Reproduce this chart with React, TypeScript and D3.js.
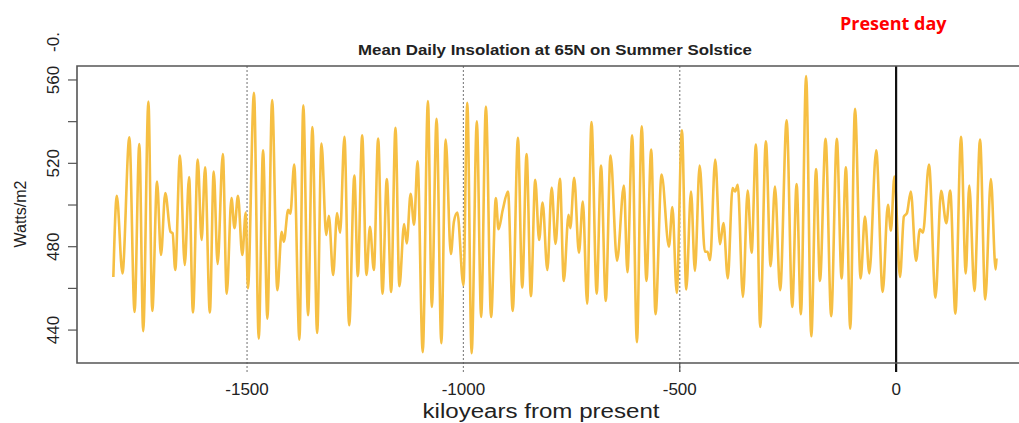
import React from 'react';
import * as d3 from 'd3';

// kiloyears from present (negative = past)
const years = [
  -1809, -1801, -1788, -1772, -1760, -1749, -1740, -1728, -1719, -1708, -1699, -1689, -1677, -1672, -1666,
  -1655, -1644, -1634, -1625, -1614, -1605, -1597, -1586, -1577, -1568, -1556, -1547, -1536, -1529, -1521,
  -1511, -1503, -1498, -1484, -1473, -1463, -1453, -1442, -1430, -1420, -1415, -1405, -1400, -1391, -1379,
  -1370, -1359, -1349, -1338, -1328, -1317, -1311, -1301, -1292, -1285, -1275, -1264, -1252, -1244, -1234,
  -1224, -1216, -1207, -1197, -1187, -1177, -1167, -1157, -1148, -1137, -1131, -1122, -1114, -1106, -1094,
  -1082, -1073, -1062, -1051, -1041, -1029, -1022, -1014, -1000, -991, -981, -969, -959, -948, -936,
  -925, -919, -909, -897, -886, -874, -864, -854, -844, -834, -825, -817, -806, -796, -787,
  -777, -768, -757, -753, -744, -733, -724, -714, -704, -692, -682, -671, -660, -645, -629,
  -621, -610, -599, -588, -577, -566, -556, -542, -525, -517, -507, -495, -485, -474, -465,
  -454, -442, -436, -430, -418, -407, -399, -389, -378, -372, -366, -354, -343, -334, -324,
  -314, -301, -290, -280, -268, -253, -240, -230, -220, -208, -196, -185, -176, -163, -150,
  -137, -126, -116, -106, -95, -82, -72, -62, -46, -31, -19, -12, -4, 9, 18,
  25, 34, 46, 55, 62, 76, 91, 104, 116, 125, 137, 150, 161, 169, 181,
  194, 206, 219, 230, 232
];

// mean daily insolation at 65N, summer solstice (W/m2)
const insolation = [
  465.5, 504.4, 467.2, 532.5, 448.7, 529.3, 439.5, 549.6, 449.2, 511.3, 476, 505.7, 487.2, 486.5, 468.8,
  523.7, 471.2, 513.4, 448.4, 521.8, 483.2, 518.1, 448.4, 516.1, 471.7, 524.5, 457.5, 503.3, 488.9, 504.4,
  476, 496.4, 460, 553.9, 435.9, 526.3, 445.5, 550.4, 459.1, 487.2, 482.4, 497.7, 495.8, 519.4, 435.4,
  547.8, 447.1, 537.4, 438.6, 529.5, 485.6, 494.8, 466.4, 496.1, 486.7, 532.7, 442.3, 514.1, 465.9, 533.4,
  466.4, 489.6, 468.8, 531.9, 457.5, 512.5, 458.3, 537.1, 461, 490.9, 481.6, 505.4, 490.5, 521, 429.4,
  549.9, 451.1, 541.4, 433.7, 531.4, 476.5, 492, 496.4, 461.5, 549.1, 428.9, 540.2, 446.3, 547.2, 446.3,
  503.3, 488.4, 497.7, 506.5, 449.2, 532.2, 460.4, 524.5, 456.3, 512.1, 483.2, 501.2, 468.8, 508.4, 481.3,
  512.6, 463.6, 495.3, 488.9, 513, 477.1, 501.7, 452.7, 539.8, 457.5, 518.9, 454, 523.7, 473.3, 509.3,
  467.8, 533.4, 434.2, 537.8, 463.6, 526.6, 447.6, 514.6, 480, 499, 457.8, 535.9, 459.5, 506.5, 468.4,
  518.9, 477.6, 477.6, 473.6, 521.8, 481.2, 491.3, 464.8, 508.1, 506.5, 509.7, 455.9, 507, 477.1, 529,
  441.5, 530.6, 470.7, 508.9, 459.1, 540.6, 451.1, 510.1, 447.6, 561.9, 437, 517.3, 463.6, 531.8, 446.6,
  531.8, 464.8, 518.1, 440.7, 546.2, 464.8, 494.5, 467.2, 526.3, 458.3, 500.1, 487.7, 513.7, 465.5, 494.5,
  496.1, 506.5, 473.3, 488.4, 486.7, 519.4, 455.6, 506.8, 491.3, 507, 447.9, 532.7, 467.2, 509.3, 458.8,
  531.4, 454.7, 512.5, 469.1, 474.4
];

const xTicks = [-1500, -1000, -500, 0];
const dottedAt = [-1500, -1000, -500];
const yTicks = [440, 460, 480, 500, 520, 540, 560];
const yLabels = [440, 480, 520, 560];

const W = 1019;
const H = 423;
const box = { left: 77, right: 1019, top: 66, bottom: 363 };

export default function App() {
  const x = d3.scaleLinear().domain([-1893, 284]).range([box.left, box.right]);
  const y = d3.scaleLinear().domain([424.2, 566.7]).range([box.bottom, box.top]);

  const data = years.map((t, i) => ({ t, v: insolation[i] }));
  const line = d3.line<{ t: number; v: number }>()
    .x(d => x(d.t))
    .y(d => y(d.v))
    .curve(d3.curveMonotoneX);

  const font = '"Liberation Sans", Arial, sans-serif';

  return (
    <svg width={W} height={H} style={{ position: 'absolute', left: 0, top: 0, background: '#fff' }}>
      {/* title + annotation */}
      <text x={555} y={55} textAnchor="middle" fontFamily={font} fontWeight="bold" fontSize={15}
        textLength={394} lengthAdjust="spacingAndGlyphs" fill="#222">
        Mean Daily Insolation at 65N on Summer Solstice
      </text>
      <text x={840} y={30} fontFamily='"Open Sans", sans-serif' fontWeight="bold" fontSize={18} fill="#ff0000">
        Present day
      </text>

      {/* reference lines */}
      {dottedAt.map(t => (
        <line key={t} x1={x(t)} x2={x(t)} y1={box.top} y2={box.bottom + 9}
          stroke="#888" strokeWidth={1.2} strokeDasharray="2,2" />
      ))}

      <path d={line(data) || ''} fill="none" stroke="#f6bf43" strokeWidth={2.6} strokeLinejoin="round" />

      <line x1={x(0)} x2={x(0)} y1={box.top} y2={box.bottom + 9} stroke="#111" strokeWidth={2.2} />

      {/* plot frame */}
      <path d={`M${box.right + 2},${box.top}H${box.left}V${box.bottom}H${box.right + 2}`}
        fill="none" stroke="#555" strokeWidth={1.6} />

      {/* x axis */}
      {xTicks.map(t => (
        <g key={t}>
          {t === -500 && <line x1={x(t)} x2={x(t)} y1={box.bottom} y2={box.bottom + 9} stroke="#555" strokeWidth={1.2} />}
          <text x={x(t)} y={395} textAnchor="middle" fontFamily={font} fontSize={17} fill="#222">{t}</text>
        </g>
      ))}
      <text x={541} y={418} textAnchor="middle" fontFamily={font} fontSize={20}
        textLength={237} lengthAdjust="spacingAndGlyphs" fill="#222">
        kiloyears from present
      </text>

      {/* y axis */}
      {yTicks.map(v => (
        <line key={v} x1={box.left - 9} x2={box.left} y1={y(v)} y2={y(v)} stroke="#555" strokeWidth={1.2} />
      ))}
      {yLabels.map(v => (
        <text key={v} transform={`translate(59,${y(v)}) rotate(-90)`} textAnchor="middle"
          fontFamily={font} fontSize={17} fill="#222">{v}</text>
      ))}
      <text transform="translate(59,42) rotate(-90)" textAnchor="middle" fontFamily={font} fontSize={17} fill="#222">-0.</text>
      <text transform="translate(26,214) rotate(-90)" textAnchor="middle" fontFamily={font} fontSize={16} fill="#222">
        Watts/m2
      </text>
    </svg>
  );
}
